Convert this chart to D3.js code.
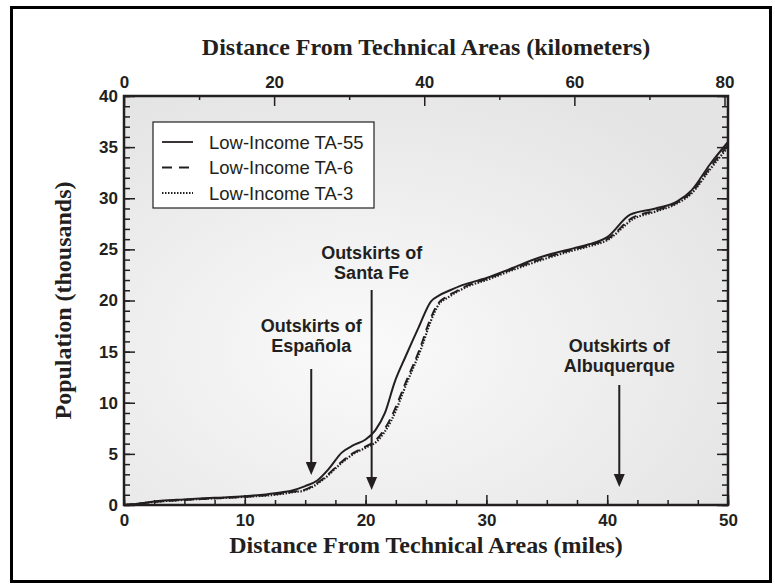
<!DOCTYPE html>
<html>
<head>
<meta charset="utf-8">
<script src="https://cdn.jsdelivr.net/npm/d3@7"></script>
<style>
  body { margin: 0; background: #fff; }
  svg { display: block; }
  .tick-label { font-family: "Liberation Sans", Arial, sans-serif; font-weight: bold; font-size: 17px; fill: #231f20; }
  .axis-title { font-family: "Liberation Serif", "Times New Roman", serif; font-weight: bold; font-size: 24px; fill: #231f20; }
  .note { font-family: "Liberation Sans", Arial, sans-serif; font-weight: bold; font-size: 18px; fill: #231f20; }
  .legend-text { font-family: "Liberation Sans", Arial, sans-serif; font-size: 18.5px; fill: #231f20; }
</style>
</head>
<body>
<div id="chart"></div>
<script>
// -------------------------------------------------------------------------
// Data (distance in miles, population in thousands)

const ta55 = [
  [0, 0], [1, 0.1], [2.5, 0.35], [5, 0.55], [7.5, 0.7], [10, 0.85], [12.5, 1.15],
  [14, 1.45], [15, 1.85], [16, 2.4], [17, 3.6], [18, 5.1], [19, 5.85], [20, 6.4],
  [20.8, 7.3], [21.6, 9.0], [22.4, 12.0], [23.3, 14.5], [24.4, 17.4], [25.4, 19.9],
  [26.1, 20.5], [27, 21.0], [28, 21.5], [30, 22.2], [32, 23.1], [34.4, 24.2],
  [37.2, 25.1], [38.5, 25.5], [40, 26.2], [41.9, 28.4], [44, 29.0], [45.8, 29.7],
  [47, 30.8], [48.5, 33.3], [50, 35.5]
];

const ta6 = [
  [0, 0], [1, 0.1], [2.5, 0.3], [5, 0.5], [7.5, 0.65], [10, 0.8], [12.5, 1.05],
  [14, 1.3], [15, 1.5], [16.5, 2.6], [18, 4.2], [19, 5.1], [20, 5.7], [20.9, 6.4],
  [22, 8.3], [23.4, 12.2], [24.5, 15.3], [25.3, 18.0], [26, 19.7], [26.6, 20.3],
  [27.5, 20.9], [28.5, 21.5], [30, 22.1], [32, 23.0], [34.4, 24.0], [37.2, 25.0],
  [38.5, 25.4], [40, 26.0], [42.1, 28.1], [44, 28.8], [45.8, 29.6], [47, 30.6],
  [48.5, 33.0], [50, 35.2]
];

const ta3 = [
  [0, 0], [1, 0.1], [2.5, 0.3], [5, 0.5], [7.5, 0.65], [10, 0.8], [12.5, 1.0],
  [14, 1.25], [15, 1.45], [16.5, 2.5], [18, 4.1], [19, 5.0], [20, 5.6], [21, 6.3],
  [22.1, 8.2], [23.5, 12.2], [24.6, 15.3], [25.4, 18.0], [26.1, 19.7], [26.7, 20.2],
  [27.5, 20.8], [28.5, 21.4], [30, 22.0], [32, 22.9], [34.4, 23.9], [37.2, 24.9],
  [38.5, 25.3], [40, 25.9], [42.2, 28.0], [44, 28.7], [45.8, 29.5], [47, 30.5],
  [48.5, 32.8], [50, 35.0]
];

const seriesNames = ['Low-Income TA-55', 'Low-Income TA-6', 'Low-Income TA-3'];

const mileTicks = [0, 10, 20, 30, 40, 50];
const kmTicks = [0, 20, 40, 60, 80];
const popTicks = [0, 5, 10, 15, 20, 25, 30, 35, 40];

const notes = [
  { lines: ['Outskirts of', 'Española'], mile: 15.5 },
  { lines: ['Outskirts of', 'Santa Fe'], mile: 20.5 },
  { lines: ['Outskirts of', 'Albuquerque'], mile: 41 }
];

// -------------------------------------------------------------------------
// Layout

const width = 775;
const height = 588;
const plotLeft = 124, plotRight = 728, plotTop = 96, plotBottom = 505;
const KM_PER_MILE = 1.609344;

// text / arrow placement for the notes (pixel y)
const noteLayout = [
  { textY: 326, arrowFrom: 369, arrowTo: 475 },
  { textY: 253, arrowFrom: 290, arrowTo: 490 },
  { textY: 346, arrowFrom: 385, arrowTo: 487 }
];

const dashes = [null, '9,6', '1.5,1.5'];

const x = d3.scaleLinear().domain([0, 50]).range([plotLeft, plotRight]);
const xKm = d3.scaleLinear().domain([0, 50 * KM_PER_MILE]).range([plotLeft, plotRight]);
const y = d3.scaleLinear().domain([0, 40]).range([plotBottom, plotTop]);

const svg = d3.select('#chart').append('svg')
  .attr('width', width)
  .attr('height', height);

const defs = svg.append('defs');
const grad = defs.append('radialGradient')
  .attr('id', 'bg')
  .attr('cx', '40%').attr('cy', '62%').attr('r', '72%');
grad.append('stop').attr('offset', '0%').attr('stop-color', '#fafafa');
grad.append('stop').attr('offset', '100%').attr('stop-color', '#e4e4e4');

// outer frame
svg.append('rect')
  .attr('x', 11.5).attr('y', 7.5)
  .attr('width', 759).attr('height', 574)
  .attr('fill', 'none')
  .attr('stroke', '#000')
  .attr('stroke-width', 3);

// plot background
svg.append('rect')
  .attr('x', plotLeft).attr('y', plotTop)
  .attr('width', plotRight - plotLeft).attr('height', plotBottom - plotTop)
  .attr('fill', 'url(#bg)');

// -------------------------------------------------------------------------
// Axes

function styleAxis(g) {
  g.select('.domain').remove();
  g.selectAll('.tick line').attr('stroke', '#231f20').attr('stroke-width', 1.5);
  g.selectAll('.tick text').attr('class', 'tick-label').attr('fill', null);
}

// bottom miles
svg.append('g')
  .attr('transform', `translate(0,${plotBottom})`)
  .call(d3.axisBottom(x).tickValues(d3.range(0, 50.1, 2.5)).tickSize(-5).tickFormat(''))
  .call(styleAxis);
svg.append('g')
  .attr('transform', `translate(0,${plotBottom})`)
  .call(d3.axisBottom(x).tickValues(mileTicks).tickSize(-10).tickPadding(9).tickFormat(d3.format('d')))
  .call(styleAxis);

// top kilometers
svg.append('g')
  .attr('transform', `translate(0,${plotTop})`)
  .call(d3.axisTop(xKm).tickValues([10, 30, 50, 70]).tickSize(-4).tickFormat(''))
  .call(styleAxis);
svg.append('g')
  .attr('transform', `translate(0,${plotTop})`)
  .call(d3.axisTop(xKm).tickValues(kmTicks).tickSize(-10).tickPadding(8).tickFormat(d3.format('d')))
  .call(styleAxis);

// left population
svg.append('g')
  .attr('transform', `translate(${plotLeft},0)`)
  .call(d3.axisLeft(y).ticks(40).tickSize(-6).tickFormat(''))
  .call(styleAxis);
svg.append('g')
  .attr('transform', `translate(${plotLeft},0)`)
  .call(d3.axisLeft(y).tickValues(popTicks).tickSize(-11).tickPadding(6).tickFormat(d3.format('d')))
  .call(styleAxis);

// right population (no labels)
svg.append('g')
  .attr('transform', `translate(${plotRight},0)`)
  .call(d3.axisRight(y).ticks(40).tickSize(-6).tickFormat(''))
  .call(styleAxis);
svg.append('g')
  .attr('transform', `translate(${plotRight},0)`)
  .call(d3.axisRight(y).tickValues(popTicks).tickSize(-11).tickFormat(''))
  .call(styleAxis);

// plot frame
svg.append('rect')
  .attr('x', plotLeft).attr('y', plotTop)
  .attr('width', plotRight - plotLeft).attr('height', plotBottom - plotTop)
  .attr('fill', 'none')
  .attr('stroke', '#231f20')
  .attr('stroke-width', 2.5);

// axis titles
svg.append('text')
  .attr('class', 'axis-title')
  .attr('x', (plotLeft + plotRight) / 2).attr('y', 55)
  .attr('text-anchor', 'middle')
  .text('Distance From Technical Areas (kilometers)');

svg.append('text')
  .attr('class', 'axis-title')
  .attr('x', (plotLeft + plotRight) / 2).attr('y', 553)
  .attr('text-anchor', 'middle')
  .text('Distance From Technical Areas (miles)');

svg.append('text')
  .attr('class', 'axis-title')
  .attr('transform', `translate(71,${(plotTop + plotBottom) / 2}) rotate(-90)`)
  .attr('text-anchor', 'middle')
  .text('Population (thousands)');

// -------------------------------------------------------------------------
// Lines

const line = d3.line()
  .x(d => x(d[0]))
  .y(d => y(d[1]))
  .curve(d3.curveMonotoneX);

[ta55, ta6, ta3].forEach((series, i) => {
  svg.append('path')
    .datum(series)
    .attr('d', line)
    .attr('fill', 'none')
    .attr('stroke', '#231f20')
    .attr('stroke-width', i === 2 ? 2.2 : 2)
    .attr('stroke-dasharray', dashes[i]);
});

// -------------------------------------------------------------------------
// Notes with arrows

notes.forEach((note, i) => {
  const cx = x(note.mile);
  const lay = noteLayout[i];
  note.lines.forEach((txt, j) => {
    svg.append('text')
      .attr('class', 'note')
      .attr('x', cx)
      .attr('y', lay.textY + j * 20)
      .attr('dy', '0.36em')
      .attr('text-anchor', 'middle')
      .text(txt);
  });
  svg.append('line')
    .attr('x1', cx).attr('x2', cx)
    .attr('y1', lay.arrowFrom).attr('y2', lay.arrowTo - 12)
    .attr('stroke', '#231f20')
    .attr('stroke-width', 2);
  svg.append('path')
    .attr('d', `M${cx - 5.5},${lay.arrowTo - 13}L${cx + 5.5},${lay.arrowTo - 13}L${cx},${lay.arrowTo}Z`)
    .attr('fill', '#231f20');
});

// -------------------------------------------------------------------------
// Legend

const legend = svg.append('g').attr('transform', 'translate(153,122)');
legend.append('rect')
  .attr('width', 221).attr('height', 86)
  .attr('fill', '#fff')
  .attr('stroke', '#231f20')
  .attr('stroke-width', 1.2);

seriesNames.forEach((name, i) => {
  const ly = 20 + i * 25.5;
  legend.append('line')
    .attr('x1', 9).attr('x2', 40)
    .attr('y1', ly).attr('y2', ly)
    .attr('stroke', '#231f20')
    .attr('stroke-width', i === 2 ? 2 : 1.8)
    .attr('stroke-dasharray', i === 1 ? '10,7' : dashes[i]);
  legend.append('text')
    .attr('class', 'legend-text')
    .attr('x', 56).attr('y', ly)
    .attr('dy', '0.36em')
    .text(name);
});
</script>
</body>
</html>
